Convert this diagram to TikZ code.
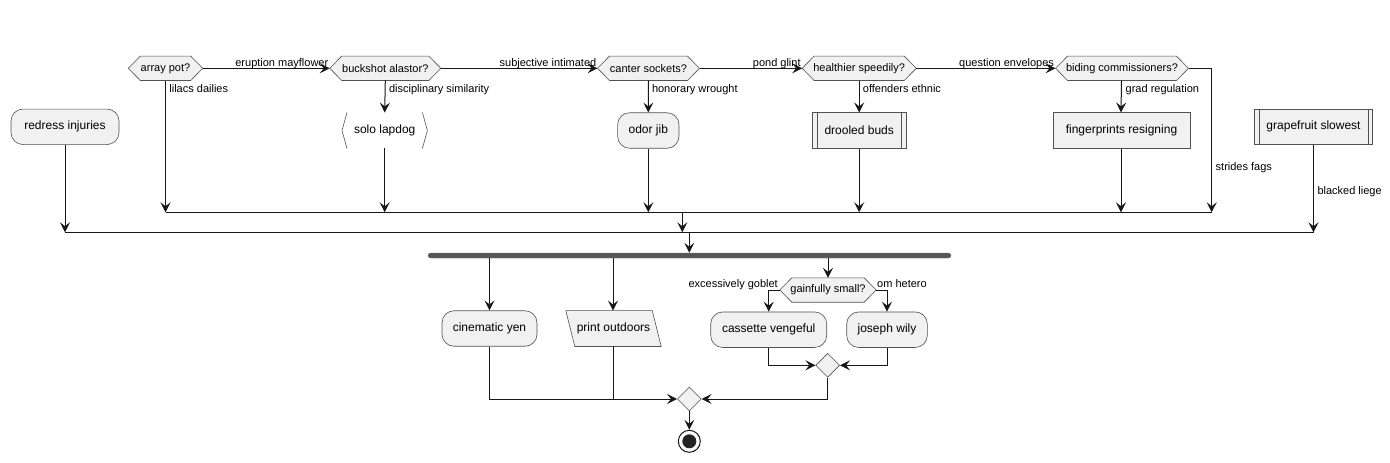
\documentclass[tikz,border=0pt]{standalone}
\usepackage{fontspec}
\setmainfont{Liberation Sans}
\usetikzlibrary{arrows.meta,backgrounds,calc,shapes.geometric}
\definecolor{boxgray}{HTML}{F1F1F1}
\definecolor{linec}{HTML}{181818}
\definecolor{forkc}{HTML}{555555}
\tikzset{
  conn/.style={draw=linec, line width=1pt},
  arr/.style={conn, -{Stealth[length=10pt,width=10pt,inset=4pt]}},
  shapeline/.style={draw=linec!75, line width=0.6pt},
  actbox/.style={shapeline, fill=boxgray, rounded corners=12pt, minimum height=35.5pt, inner sep=0pt, font=\fontsize{12}{14}\selectfont},
  plainbox/.style={actbox, rounded corners=0pt},
  freetext/.style={minimum height=35.5pt, inner sep=0pt, font=\fontsize{12}{14}\selectfont},
  hextext/.style={minimum height=24pt, inner sep=0pt, font=\fontsize{11}{13}\selectfont},
  hexline/.style={shapeline, fill=boxgray},
  lbl/.style={inner sep=0pt, font=\fontsize{11}{13}\selectfont},
  mergedia/.style={diamond, shapeline, fill=boxgray, minimum width=24pt, minimum height=24pt, inner sep=0pt},
}
\newcommand\mkhex[1]{%
  \begin{pgfonlayer}{background}
  \draw[hexline] (#1.west) -- ([xshift=12pt]#1.north west) -- ([xshift=-12pt]#1.north east) -- (#1.east) -- ([xshift=-12pt]#1.south east) -- ([xshift=12pt]#1.south west) -- cycle;
  \end{pgfonlayer}}
\newcommand\mksub[1]{%
  \draw[shapeline] ([xshift=5pt]#1.north west) -- ([xshift=5pt]#1.south west);
  \draw[shapeline] ([xshift=-5pt]#1.north east) -- ([xshift=-5pt]#1.south east);}
\begin{document}
\begin{tikzpicture}[x=1pt,y=-1pt]
\begin{pgfonlayer}{background}
\fill[white] (0,0) rectangle (1390,463);
\end{pgfonlayer}
\useasboundingbox (0,0) rectangle (1390,463);

% top decisions
\node[hextext, minimum width=74pt] (arraypot) at (165.5,68.3) {array pot?};
\node[hextext, minimum width=110.7pt] (buckshot) at (385.3,68.3) {buckshot alastor?};
\node[hextext, minimum width=101.6pt] (canter) at (648.5,68.3) {canter sockets?};
\node[hextext, minimum width=113.7pt] (healthier) at (859.2,68.3) {healthier speedily?};
\node[hextext, minimum width=132.6pt] (biding) at (1122,68.3) {biding commissioners?};
\mkhex{arraypot}\mkhex{buckshot}\mkhex{canter}\mkhex{healthier}\mkhex{biding}

% activities row
\node[actbox, minimum width=108pt] (redress) at (65,126.8) {redress injuries};
\node[freetext, minimum width=85pt] (solo) at (384.7,130.5) {solo lapdog};
\draw[shapeline] ([xshift=5pt]solo.north west) -- (solo.west) -- ([xshift=5pt]solo.south west);
\draw[shapeline] ([xshift=-5pt]solo.north east) -- (solo.east) -- ([xshift=-5pt]solo.south east);
\node[actbox, minimum width=61.4pt] (odor) at (648.3,130.5) {odor jib};
\node[plainbox, minimum width=93.4pt] (drooled) at (859.2,130.5) {drooled buds};
\mksub{drooled}
\node[plainbox, minimum width=137.4pt] (finger) at (1121.5,130.5) {fingerprints resigning};
\node[plainbox, minimum width=118.4pt] (grape) at (1313.5,126.8) {grapefruit slowest};
\mksub{grape}

% merge coordinates
\coordinate (inner) at (682.3,212.3);
\coordinate (outer) at (689.3,232.3);
\coordinate (stridesR) at (1211.7,212.3);

% horizontal chain
\draw[arr] (arraypot.east) -- (buckshot.west);
\node[lbl, anchor=base east] (lb1) at (328.5,66.3) {eruption mayflower};
\draw[arr] (buckshot.east) -- (canter.west);
\node[lbl, anchor=base east] (lb2) at (596.5,66.3) {subjective intimated};
\draw[arr] (canter.east) -- (healthier.west);
\node[lbl, anchor=base east] (lb3) at (800.8,66.3) {pond glint};
\draw[arr] (healthier.east) -- (biding.west);
\node[lbl, anchor=base east] (lb4) at (1054.2,66.3) {question envelopes};
\draw[arr] (biding.east) -| (stridesR);
\node[lbl, anchor=base west] (lb5) at (1215.5,170.5) {strides fags};

% verticals
\draw[arr] (arraypot.south) -- (arraypot.south |- inner);
\node[lbl, anchor=base west] (lb6) at (169.2,92.2) {lilacs dailies};
\draw[arr] (buckshot.south) -- (solo.north);
\node[lbl, anchor=base west] (lb7) at (388.8,92.2) {disciplinary similarity};
\draw[arr] (solo.south) -- (solo.south |- inner);
\draw[arr] (canter.south) -- (odor.north);
\node[lbl, anchor=base west] (lb8) at (651.8,92.2) {honorary wrought};
\draw[arr] (odor.south) -- (odor.south |- inner);
\draw[arr] (healthier.south) -- (drooled.north);
\node[lbl, anchor=base west] (lb9) at (862.7,92.2) {offenders ethnic};
\draw[arr] (drooled.south) -- (drooled.south |- inner);
\draw[arr] ([xshift=-0.5pt]biding.south) -- ([xshift=-0.5pt]finger.north);
\node[lbl, anchor=base west] (lb10) at (1125.5,92.2) {grad regulation};
\draw[arr] ([xshift=-0.5pt]finger.south) -- ([xshift=-0.5pt]finger.south |- inner);

% inner merge
\draw[conn] (arraypot.south |- inner) -- (stridesR);
\draw[arr] (inner) -- (inner |- outer);

% outer merge
\draw[arr] (redress.south) -- (redress.south |- outer);
\draw[arr] (grape.south) -- (grape.south |- outer);
\node[lbl, anchor=base west] (lb11) at (1317.3,194.8) {blacked liege};
\draw[conn, line width=1.2pt] (redress.south |- outer) -- (grape.south |- outer);

% fork
\node[draw=forkc!80, fill=forkc, rounded corners=2.5pt, minimum width=523pt, minimum height=5pt, inner sep=0pt] (fork) at (689.5,255.5) {};
\draw[arr] (outer) -- (outer |- fork.north);

% lower activities
\node[actbox, minimum width=95pt] (cine) at (489.5,328.5) {cinematic yen};
\node[freetext, minimum width=95pt] (print) at (613.5,328.5) {print outdoors};
\begin{pgfonlayer}{background}
\draw[shapeline, fill=boxgray] (print.north west) -- ([xshift=-9pt]print.north east) -- (print.south east) -- ([xshift=9pt]print.south west) -- cycle;
\end{pgfonlayer}
\node[hextext, minimum width=96pt] (gain) at (828,290) {gainfully small?};
\mkhex{gain}
\node[actbox, minimum width=116pt] (cass) at (768.7,329.7) {cassette vengeful};
\node[actbox, minimum width=80.6pt] (joseph) at (887,329.7) {joseph wily};
\node[mergedia] (sdia) at (827.7,365.3) {};
\node[mergedia] (bdia) at (689.3,399) {};
\node[circle, draw=linec, line width=1pt, fill=white, minimum size=22pt, inner sep=0pt] (endo) at (689.3,441.3) {};
\node[circle, fill=linec!95, minimum size=14pt, inner sep=0pt] (endin) at (endo) {};

\draw[arr] (cine.north |- fork.south) -- (cine.north);
\draw[arr] ([xshift=-0.5pt]print.north |- fork.south) -- ([xshift=-0.5pt]print.north);
\draw[arr] (gain.north |- fork.south) -- (gain.north);

\draw[arr] (gain.west) -| (cass.north);
\node[lbl, anchor=base east] (lb12) at (778,287.7) {excessively goblet};
\draw[arr] (gain.east) -| (joseph.north);
\node[lbl, anchor=base west] (lb13) at (877,287.7) {om hetero};

\draw[arr] (cass.south) |- (sdia.west);
\draw[arr] (joseph.south) |- (sdia.east);
\draw[arr] (sdia.south) |- (bdia.east);
\draw[arr] (cine.south) |- (bdia.west);
\draw[conn] ([xshift=-0.5pt]print.south) -- ([xshift=-0.5pt]print.south |- bdia.west);
\draw[arr] (bdia.south) -- (endo.north);
\end{tikzpicture}
\end{document}
